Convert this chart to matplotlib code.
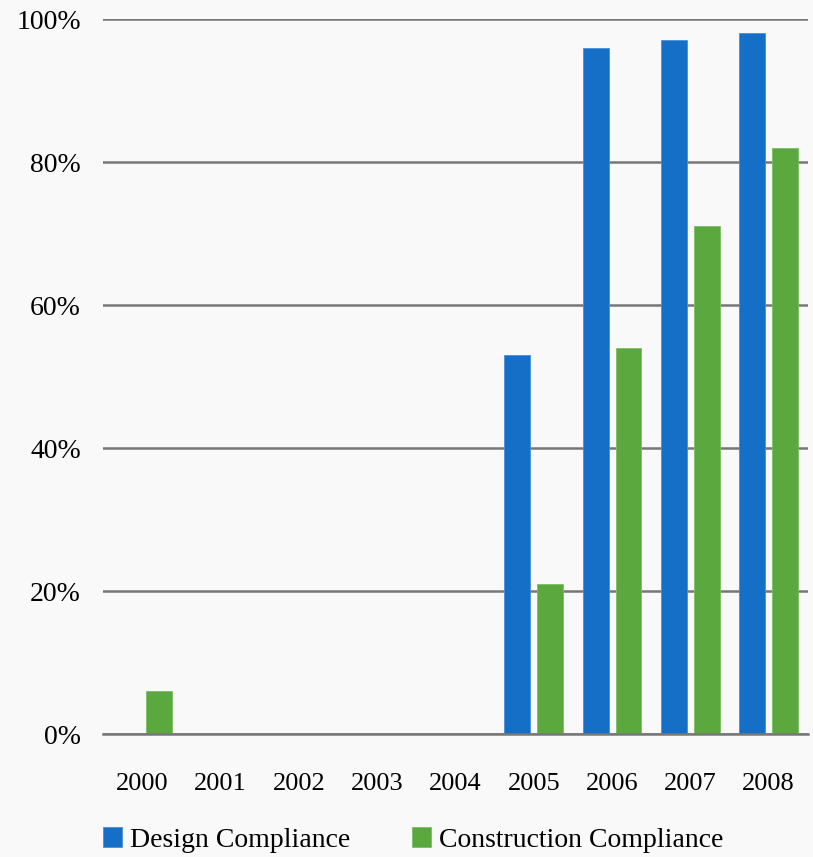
import matplotlib
matplotlib.use('Agg')
import matplotlib.pyplot as plt
import numpy as np

# chart data
years = ['2000', '2001', '2002', '2003', '2004', '2005', '2006', '2007', '2008']
design = [0, 0, 0, 0, 0, 53, 96, 97, 98]
construction = [6, 0, 0, 0, 0, 21, 54, 71, 82]
y_ticks = [0, 20, 40, 60, 80, 100]

blue = '#156FC6'
green = '#5AA83E'
grid_col = '#777777'

plt.rcParams['font.family'] = ['Liberation Serif', 'DejaVu Serif']

fig = plt.figure(figsize=(8.13, 8.57), dpi=100, facecolor='#F9F9F9')
ax = fig.add_axes([0.1267, 0.1435, 0.867, 0.8343])
ax.set_facecolor('none')

x = np.arange(len(years))
w = 0.33
off = 0.21
ax.bar(x - off, design, width=w, color=blue, edgecolor='#4A8FD8', linewidth=0.6,
       label='Design Compliance', zorder=3)
ax.bar(x + off, construction, width=w, color=green, edgecolor='#7CBE66', linewidth=0.6,
       label='Construction Compliance', zorder=3)

ax.set_xlim(-0.5, len(years) - 0.5)
ax.set_ylim(0, 100)
ax.set_yticks(y_ticks)
ax.set_yticklabels([f'{v}%' for v in y_ticks], fontsize=20)
ax.set_xticks(x)
ax.set_xticklabels(years, fontsize=19)
ax.tick_params(axis='y', length=0, pad=16)
ax.tick_params(axis='x', length=0, pad=28)

ax.grid(axis='y', color=grid_col, linewidth=1.8, zorder=0)
for s in ['top', 'right', 'left']:
    ax.spines[s].set_visible(False)
ax.spines['bottom'].set_color(grid_col)
ax.spines['bottom'].set_linewidth(1.8)
ax.spines['bottom'].set_zorder(4)

ax.legend(loc='upper center', bbox_to_anchor=(0.44, -0.115), ncol=2, frameon=False,
          fontsize=20, handlelength=0.7, handleheight=0.7, handletextpad=0.3,
          columnspacing=2.2, borderaxespad=0)

fig.savefig('out.png', dpi=100, facecolor=fig.get_facecolor())
